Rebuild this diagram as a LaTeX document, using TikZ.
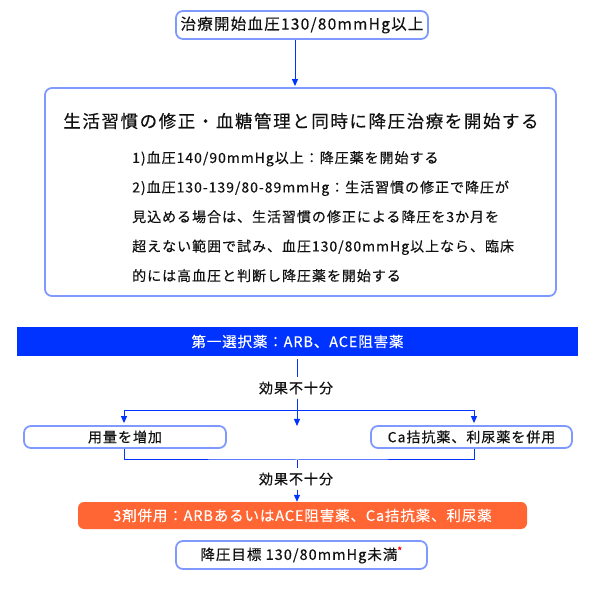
\documentclass[tikz,border=0pt]{standalone}
\usepackage{fontspec}
\setmainfont{Noto Sans CJK JP}
\newfontfamily\jpS{Noto Sans CJK JP}[LetterSpace=7,FakeBold=0.3]
\newfontfamily\jpT{Noto Sans CJK JP}[LetterSpace=8,FakeBold=0.3]
\newfontfamily\jpH{Noto Sans CJK JP}[LetterSpace=9,FakeBold=0.3]
\newfontfamily\jpB{Noto Sans CJK JP}[LetterSpace=6,FakeBold=0.3]
\usetikzlibrary{arrows.meta}
\definecolor{lineblue}{HTML}{0033FF}
\definecolor{boxborder}{HTML}{8099FF}
\definecolor{barblue}{HTML}{0033FF}
\definecolor{orangefill}{HTML}{FF6633}
\definecolor{txt}{HTML}{111111}
\begin{document}
\begin{tikzpicture}[x=1pt,y=-1pt,
  box/.style={draw=boxborder,line width=1.8pt,rounded corners=7pt,fill=white,inner sep=0pt,text=txt},
  conn/.style={draw=lineblue,line width=1pt},
  arr/.style={conn,-{Triangle[width=6pt,length=7pt]}},
  lbl/.style={inner sep=0pt,minimum height=21pt,text=txt,font=\jpS\fontsize{14}{16}\selectfont},
  smalltxt/.style={font=\jpS\fontsize{14}{16}\selectfont},
  whitetxt/.style={inner sep=0pt,text=white,font=\jpB\fontsize{14.5}{16}\selectfont}]
\useasboundingbox (0,0) rectangle (600,593);
\fill[white] (0,0) rectangle (600,593);

% top box
\node[box,minimum width=252pt,minimum height=28pt,font=\jpT\fontsize{15.5}{17}\selectfont] (top) at (302,25) {治療開始血圧130/80mmHg以上};
\coordinate (a1) at (295,0);

% big box
\node[box,minimum width=511pt,minimum height=208pt] (big) at (300.5,192) {};
\node[inner sep=0pt,text=txt,font=\jpH\fontsize{17.5}{19}\selectfont] (head) at (301,121) {生活習慣の修正・血糖管理と同時に降圧治療を開始する};
\node[inner sep=0pt,text=txt,anchor=north west,align=left,font=\jpS\fontsize{14}{29.5}\selectfont] (sub) at (132,151) {1)血圧140/90mmHg以上：降圧薬を開始する\\2)血圧130-139/80-89mmHg：生活習慣の修正で降圧が\\見込める場合は、生活習慣の修正による降圧を3か月を\\超えない範囲で試み、血圧130/80mmHg以上なら、臨床\\的には高血圧と判断し降圧薬を開始する};

\draw[arr,shorten >=1pt] (top.south -| a1) -- (big.north -| a1);

% first choice bar
\node[fill=barblue,minimum width=561pt,minimum height=29pt,whitetxt] (bar) at (297.5,341.5) {第一選択薬：ARB、ACE阻害薬};

\node[lbl] (k1) at (296,388) {効果不十分};
\coordinate (c1) at (297,426);
\draw[conn,shorten <=3pt] (bar.south -| c1) -- (k1.north -| c1);
\draw[arr] (k1.south -| c1) -- (c1);

% branches
\node[box,minimum width=202pt,minimum height=22pt,smalltxt] (L) at (125,437) {用量を増加};
\node[box,minimum width=201pt,minimum height=22pt,smalltxt] (R) at (471.5,437) {Ca拮抗薬、利尿薬を併用};
\coordinate (j1) at (297,411);
\coordinate (xa) at (124,0);
\coordinate (xb) at (474,0);
\draw[arr,shorten >=2pt] (j1) -| (L.north -| xa);
\draw[arr,shorten >=2pt] (j1) -| (R.north -| xb);

\coordinate (j2) at (297,460);
\draw[conn] (L.south -| xa) |- (j2) -| (R.south -| xb);

\node[lbl] (k2) at (296,479) {効果不十分};
\node[fill=orangefill,rounded corners=6pt,minimum width=449pt,minimum height=27pt,whitetxt] (O) at (302.5,515.5) {3剤併用：ARBあるいはACE阻害薬、Ca拮抗薬、利尿薬};
\draw[conn] (j2) -- (k2.north -| j2);
\draw[arr] (k2.south -| j2) -- (O.north -| j2);

% goal
\node[box,minimum width=251pt,minimum height=28pt,font=\jpS\fontsize{14.5}{16}\selectfont] (B) at (301.5,555) {降圧目標 130/80mmHg未満\textsuperscript{\textcolor{red}{*}}};
\end{tikzpicture}
\end{document}
